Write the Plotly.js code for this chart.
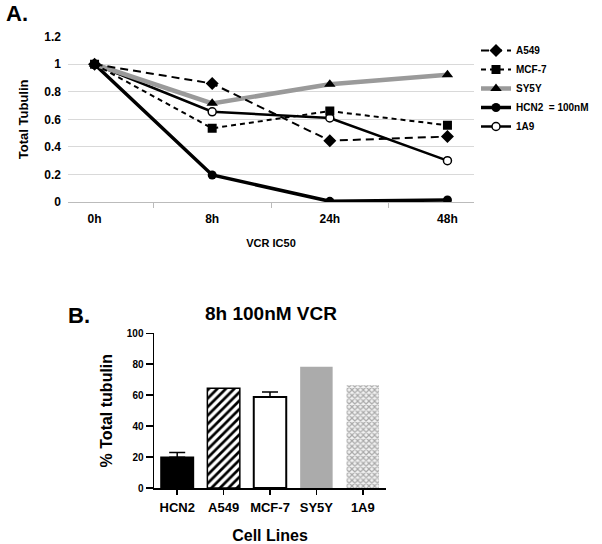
<!DOCTYPE html>
<html>
<head>
<meta charset="utf-8">
<script src="https://cdn.plot.ly/plotly-3.0.1.min.js"></script>
<style>html,body{margin:0;padding:0;background:#fff}#chart{width:602px;height:544px}</style>
</head>
<body>
<div id="chart"></div>
<script>
// ---- Panel A data ----
const timepoints = ['0h', '8h', '24h', '48h'];
const a549 = [1, 0.86, 0.445, 0.475];
const mcf7 = [1, 0.535, 0.66, 0.557];
const sy5y = [1, 0.716, 0.854, 0.924];
const hcn2 = [1, 0.196, 0.005, 0.015];
const a1a9 = [1, 0.655, 0.61, 0.30];
const seriesNames = ['A549', 'MCF-7', 'SY5Y', 'HCN2  = 100nM', '1A9'];

// ---- Panel B data ----
const cellLines = ['HCN2', 'A549', 'MCF-7', 'SY5Y', '1A9'];
const pctTubulin = [19.8, 64.4, 58.8, 78.4, 66.4];
const pctError = [3.2, 0, 3.2, 0, 0];

const FONT = 'Arial, "Liberation Sans", sans-serif';
const bold = (size, color) => ({family: FONT, size: size, color: color || '#000', weight: 'bold'});

// drawing order (last on top); legend order set by legendrank
const lineTraces = [
  {name: seriesNames[4], legendrank: 5, y: a1a9, line: {color: '#000', width: 2.5},
   marker: {symbol: 'circle', size: 8, color: '#fff', line: {color: '#000', width: 1.5}}},
  {name: seriesNames[3], legendrank: 4, y: hcn2, line: {color: '#000', width: 3.5},
   marker: {symbol: 'circle', size: 9, color: '#000'}},
  {name: seriesNames[2], legendrank: 3, y: sy5y, line: {color: '#9a9a9a', width: 4.5},
   marker: {symbol: 'triangle-up', size: 10, color: '#000'}},
  {name: seriesNames[0], legendrank: 1, y: a549, line: {color: '#000', width: 2, dash: '8px,5px'},
   marker: {symbol: 'diamond', size: 10, color: '#000'}},
  {name: seriesNames[1], legendrank: 2, y: mcf7, line: {color: '#000', width: 2, dash: '5px,4px'},
   marker: {symbol: 'square', size: 9, color: '#000'}}
].map(t => Object.assign({type: 'scatter', mode: 'lines+markers', x: timepoints, xaxis: 'x', yaxis: 'y'}, t));

const barStyles = [
  {marker: {color: '#000', line: {color: '#000', width: 1.5}}},
  {marker: {color: '#fff', line: {color: '#000', width: 1.5},
            pattern: {shape: '/', fgcolor: '#000', bgcolor: '#fff', size: 6, solidity: 0.45}}},
  {marker: {color: '#fff', line: {color: '#000', width: 2}}},
  {marker: {color: '#ababab', line: {color: '#ababab', width: 0}}},
  {marker: {color: '#c8c8c8', line: {color: '#c8c8c8', width: 0},
            pattern: {shape: 'x', fgcolor: '#a9a9a9', bgcolor: '#f2f2f2', size: 4, solidity: 0.5}}}
];

const barTraces = cellLines.map((c, i) => {
  const t = Object.assign({
    type: 'bar', x: [c], y: [pctTubulin[i]], xaxis: 'x2', yaxis: 'y2',
    width: 0.7, showlegend: false, name: c
  }, barStyles[i]);
  if (pctError[i] > 0) {
    t.error_y = {type: 'data', array: [pctError[i]], arrayminus: [0], symmetric: false,
                 color: '#000', thickness: 1.5, width: 8};
  }
  return t;
});

const layout = {
  width: 602, height: 544,
  margin: {l: 0, r: 0, t: 0, b: 0},
  paper_bgcolor: '#fff', plot_bgcolor: 'rgba(0,0,0,0)',
  showlegend: true,
  barmode: 'overlay',
  legend: {x: 476/602, y: 1 - 36/544, xanchor: 'left', yanchor: 'top',
           font: bold(10), itemwidth: 30, tracegroupgap: 0, bgcolor: 'rgba(0,0,0,0)'},
  xaxis: {domain: [68/602, 474/602], anchor: 'y', type: 'category',
          tickson: 'boundaries', ticks: 'outside', ticklen: 5, tickcolor: '#bbbbbb',
          showline: true, linecolor: '#bbbbbb', linewidth: 1, showgrid: false,
          tickfont: bold(12), ticklabelstandoff: 6,
          title: {text: 'VCR IC50', font: bold(11), standoff: 13}},
  yaxis: {domain: [(544-202)/544, (544-36.7)/544], anchor: 'x', range: [0, 1.2], dtick: 0.2,
          showgrid: true, gridcolor: '#d9d9d9', zeroline: false, showline: false, ticks: '',
          tickfont: bold(12), ticklabelstandoff: 6,
          title: {text: 'Total Tubulin', font: bold(13), standoff: 12}},
  xaxis2: {domain: [154/602, 386/602], anchor: 'y2', type: 'category',
           showline: true, linecolor: '#000', linewidth: 1.5, ticks: 'outside', ticklen: 5,
           tickwidth: 1.5, tickcolor: '#000', showgrid: false,
           tickfont: bold(13), ticklabelstandoff: 2,
           title: {text: 'Cell Lines', font: bold(16), standoff: 16}},
  yaxis2: {domain: [(544-488)/544, (544-333.3)/544], anchor: 'x2', range: [0, 100], dtick: 20,
           showline: true, linecolor: '#000', linewidth: 1.5, ticks: 'outside', ticklen: 7,
           tickwidth: 1.5, tickcolor: '#000', showgrid: false, zeroline: false,
           tickfont: bold(10),
           title: {text: '% Total tubulin', font: bold(16), standoff: 10}},
  annotations: [
    {text: 'A.', xref: 'paper', yref: 'paper', x: 4/602, y: 1 - 13/544, xanchor: 'left', yanchor: 'middle',
     showarrow: false, font: bold(22)},
    {text: 'B.', xref: 'paper', yref: 'paper', x: 66/602, y: 1 - 315/544, xanchor: 'left', yanchor: 'middle',
     showarrow: false, font: bold(22)},
    {text: '8h 100nM VCR', xref: 'paper', yref: 'paper', x: 271/602, y: 1 - 313/544, xanchor: 'center', yanchor: 'middle',
     showarrow: false, font: bold(19)}
  ]
};

Plotly.newPlot('chart', lineTraces.concat(barTraces), layout, {displayModeBar: false, staticPlot: true});
</script>
</body>
</html>
